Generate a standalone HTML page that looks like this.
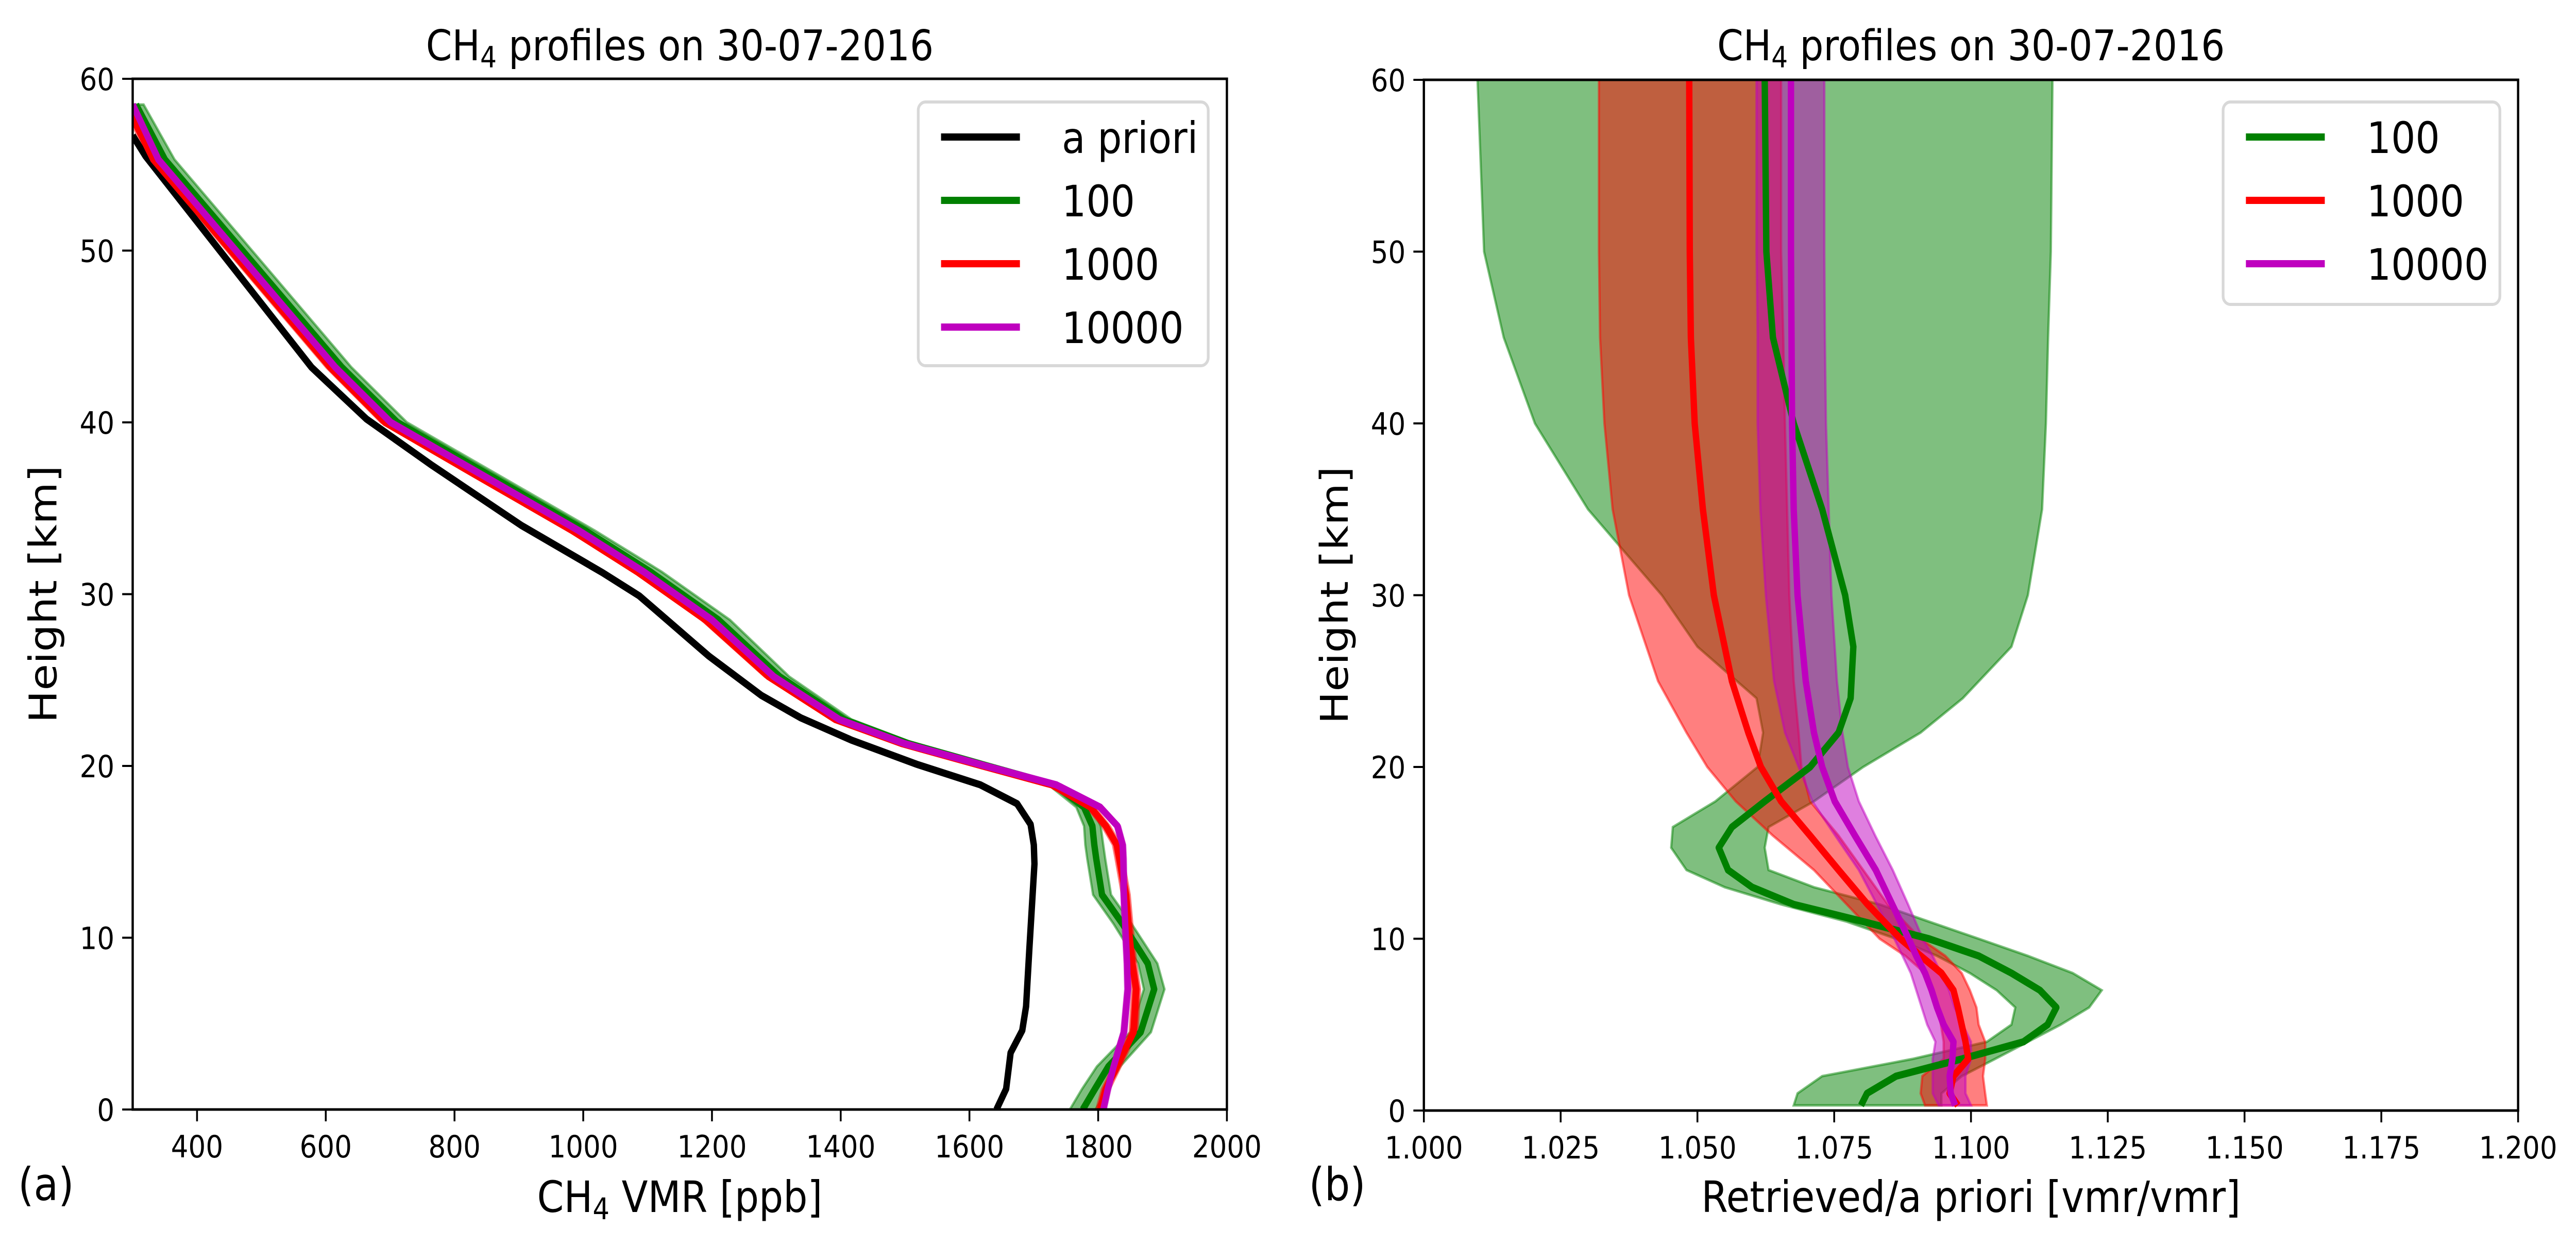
<!DOCTYPE html>
<html><head><meta charset="utf-8"><title>CH4 profiles</title>
<style>
html,body{margin:0;padding:0;background:#fff;overflow:hidden;width:100vw;height:100vh;}
svg{display:block;width:100vw;height:100vh;font-family:"DejaVu Sans","Liberation Sans",sans-serif;}
</style></head>
<body>
<svg id="fig" viewBox="0 0 5650 2419" preserveAspectRatio="none" xmlns="http://www.w3.org/2000/svg">
<defs>
<clipPath id="clipA"><rect x="291" y="153" width="2400" height="2001"/></clipPath>
<clipPath id="clipB"><rect x="3123" y="155" width="2400" height="2001"/></clipPath>
</defs>
<g id="panelA"></g>
<g id="panelB"></g>
</svg>
<script>
// ---------- Panel (a) data ----------
const aXTicks = [400,600,800,1000,1200,1400,1600,1800,2000];
const aYTicks = [0,10,20,30,40,50,60];
const yTickLabels = ["0","10","20","30","40","50","60"];
const aprioriH = [0,1.2,3.3,4.6,6,9.3,14.3,15.4,16.6,17.8,18.9,20.1,21.5,22.8,24.1,26.4,29.9,31.25,34,37.5,40.2,43.2,55.5,56.7];
const aprioriX = [1642,1657,1664,1682,1688,1693,1701,1700,1695,1674,1617,1518,1417,1338,1277,1195,1087,1030,904,765,663,578,320,300];
const retH = [0,1.2,2.5,4.5,7,8.5,10.8,12.5,14.6,15.4,16.5,17.6,18.9,20,21.3,22.7,25.2,28.5,31.3,33.7,37,40,43.2,55.3,58.5];
const r100X = [1776,1795,1816,1866,1887,1877,1838,1806,1797,1794,1791,1778,1733,1628,1505,1405,1305,1210,1104,1003,850,711,625,350,305];
const r100Err = [20,20,18,16,16,15,14,14,14,14,13,12,10,10,10,12,15,18,18,15,15,15,15,15,12];
const r1000X = [1803,1812,1829,1855,1859,1853,1847,1843,1833,1829,1812,1788,1728,1620,1495,1392,1288,1190,1084,983,830,692,607,332,290];
const r1000Err = [6,6,6,6,6,6,6,6,6,6,6,6,6,6,6,6,6,6,6,6,6,6,6,6,6];
const r10000X = [1808,1815,1824,1840,1846,1845,1842,1840,1839,1838,1830,1803,1735,1625,1499,1398,1296,1200,1094,993,840,701,615,340,300];
const r10000Err = [4,4,4,4,4,4,4,4,4,4,4,4,4,4,4,4,4,4,4,4,4,4,4,4,4];

// ---------- Panel (b) data ----------
const bXTicks = [1.0,1.025,1.05,1.075,1.1,1.125,1.15,1.175,1.2];
const bXTickLabels = ["1.000","1.025","1.050","1.075","1.100","1.125","1.150","1.175","1.200"];
const gH = [0.3,1,2,3,4,5,6,7,8,9,10,11,12,13,14,15.3,16.5,18,20,22,24,27,30,35,40,45,50,60];
const gMean = [1.0799,1.081,1.0863,1.0983,1.1096,1.114,1.1156,1.1126,1.1074,1.1014,1.0923,1.0803,1.0676,1.06,1.0556,1.0539,1.0563,1.0623,1.0706,1.0758,1.078,1.0785,1.077,1.0728,1.0676,1.0638,1.0626,1.0623];
const gLow = [1.0676,1.0683,1.0728,1.0893,1.1029,1.1074,1.1081,1.1047,1.0998,1.0938,1.0863,1.0773,1.0653,1.055,1.048,1.0452,1.0455,1.0533,1.061,1.062,1.0608,1.05,1.0435,1.03,1.0203,1.0146,1.011,1.0098];
const gHigh = [1.0946,1.0946,1.0983,1.1044,1.1104,1.1164,1.1216,1.1239,1.1186,1.1104,1.1014,1.0923,1.0833,1.0713,1.063,1.0623,1.063,1.0713,1.0803,1.0908,1.0985,1.1074,1.1104,1.113,1.1137,1.1141,1.1146,1.1149];
const rH = [0.3,1,2,3,4,5,6,7,8,9,10,12,14,16,18,20,22,25,30,35,40,45,50,60];
const rMean = [1.0976,1.0961,1.0968,1.0995,1.099,1.0983,1.0976,1.0968,1.0946,1.0908,1.0871,1.0811,1.0758,1.0706,1.0653,1.0616,1.0593,1.0563,1.053,1.051,1.0495,1.0488,1.0486,1.0485];
const rLow = [1.0916,1.0908,1.0911,1.095,1.095,1.0945,1.0938,1.093,1.0916,1.088,1.0833,1.0773,1.0713,1.0638,1.057,1.0518,1.048,1.0428,1.0375,1.0345,1.033,1.0322,1.032,1.032];
const rHigh = [1.1029,1.1026,1.1022,1.1026,1.1026,1.1014,1.101,1.0998,1.0983,1.0953,1.0908,1.0848,1.0803,1.0758,1.0706,1.069,1.0685,1.0676,1.0668,1.0664,1.066,1.0657,1.0653,1.0653];
const mH = [0.3,1,2,3,4,5,6,7,8,9,10,12,14,16,18,20,22,25,30,35,40,45,50,60];
const mMean = [1.0971,1.0963,1.0961,1.0966,1.0968,1.095,1.0938,1.0928,1.0916,1.09,1.0886,1.0856,1.0826,1.0788,1.0751,1.0728,1.0713,1.0698,1.0683,1.0676,1.0673,1.0672,1.0671,1.0671];
const mLow = [1.0941,1.093,1.093,1.093,1.0935,1.092,1.091,1.09,1.089,1.0875,1.086,1.0828,1.0795,1.0752,1.071,1.0685,1.066,1.064,1.0625,1.0615,1.061,1.061,1.0608,1.0608];
const mHigh = [1.1,1.099,1.099,1.1,1.1,1.0985,1.097,1.096,1.0945,1.093,1.0912,1.0885,1.0857,1.0825,1.0795,1.0775,1.0765,1.0755,1.0745,1.074,1.0735,1.0733,1.0732,1.0732];

const NS = "http://www.w3.org/2000/svg";
function mk(tag, attrs, parent){
  const e = document.createElementNS(NS, tag);
  for (const k in attrs) e.setAttribute(k, attrs[k]);
  parent.appendChild(e);
  return e;
}
function txt(parent, x, y, s, size, anchor, extra){
  const t = mk("text", Object.assign({x:x, y:y, "font-size":size, "text-anchor":anchor||"middle", fill:"#000"}, extra||{}), parent);
  t.textContent = s;
  return t;
}
function linePath(xs, hs, sx, sy){
  return xs.map((v,i)=>(i?"L":"M")+sx(v).toFixed(1)+","+sy(hs[i]).toFixed(1)).join(" ");
}
function bandPath(lo, hi, hs, sx, sy){
  let d = lo.map((v,i)=>(i?"L":"M")+sx(v).toFixed(1)+","+sy(hs[i]).toFixed(1)).join(" ");
  for (let i=hi.length-1;i>=0;i--) d += " L"+sx(hi[i]).toFixed(1)+","+sy(hs[i]).toFixed(1);
  return d+" Z";
}

function drawAxes(g, L, T, W, H, xmin, xmax, xt, xtl, title, xlabelParts, panelLetter){
  const sx = v => L + (v - xmin) / (xmax - xmin) * W;
  const sy = v => T + H - v / 60 * H;
  xt.forEach((v,i)=>{
    const tk = mk("line",{x1:sx(v),x2:sx(v),y1:T+H,y2:T+H+23,stroke:"#000","stroke-width":4},g);
    
    
    const lb = txt(g, sx(v), T+H+93, xtl[i], 60);
    
    
  });
  aYTicks.forEach((v,i)=>{
    const tk = mk("line",{x1:L-23,x2:L,y1:sy(v),y2:sy(v),stroke:"#000","stroke-width":4},g);
    
    
    const lb = txt(g, L-40, sy(v)+22, yTickLabels[i], 60, "end");
    
    
  });
  const t = mk("text",{x:L+W/2,y:117,"font-size":82,"text-anchor":"middle"},g);
  
  
  t.innerHTML = 'CH<tspan font-size="57" dy="14">4</tspan><tspan dy="-14"> profiles on 30-07-2016</tspan>';
  const xl = mk("text",{x:L+W/2,y:2353,"font-size":84,"text-anchor":"middle"},g);
  
  
  xl.innerHTML = xlabelParts;
  const yl = txt(g, 0, 0, "Height [km]", 84, "middle", {transform:"translate("+(L-167)+","+(T+H/2)+") rotate(-90)"});
  
  
  const pl = txt(g, L-190, 2330, panelLetter, 88, "middle");
  
  
  return {sx, sy};
}
function frame(g, L, T, W, H){
  const f = mk("rect",{x:L,y:T,width:W,height:H,fill:"none",stroke:"#000","stroke-width":5},g);
  
  
}
function legend(g, x, y, w, h, entries){
  const lg = mk("g",{},g);
  
  
  mk("rect",{x:x,y:y,width:w,height:h,rx:16,fill:"#fff","fill-opacity":0.8,stroke:"#d8d8d8","stroke-width":6},lg);
  entries.forEach((en,i)=>{
    const cy = y + 68 + i*123;
    const ent = mk("g",{},lg);
    
    
    mk("line",{x1:x+50,x2:x+223,y1:cy,y2:cy,stroke:en[1],"stroke-width":14},ent);
    txt(ent, x+315, cy+31, en[0], 84, "start");
  });
}

(function(){
  const g = document.getElementById("panelA");
  const L=291,T=153,W=2400,H=2001;
  const {sx, sy} = drawAxes(g,L,T,W,H,300,2000,aXTicks,aXTicks.map(String),"",
    'CH<tspan font-size="58" dy="14">4</tspan><tspan dy="-14"> VMR [ppb]</tspan>',"(a)");
  const plot = mk("g",{"clip-path":"url(#clipA)"},g);
  
  
  const series = [
    [r100X, r100Err, "#008000", "series-100"],
    [r1000X, r1000Err, "#ff0000", "series-1000"],
    [r10000X, r10000Err, "#bf00bf", "series-10000"]
  ];
  series.forEach(s=>{
    const lo = s[0].map((v,i)=>v - s[1][i]);
    const hi = s[0].map((v,i)=>v + s[1][i]);
    const b = mk("path",{d:bandPath(lo,hi,retH,sx,sy),fill:s[2],"fill-opacity":0.5,stroke:s[2],"stroke-opacity":0.5,"stroke-width":5},plot);
    
    
  });
  const ap = mk("path",{d:linePath(aprioriX,aprioriH,sx,sy),fill:"none",stroke:"#000","stroke-width":14,"stroke-linejoin":"round"},plot);
  
  
  series.forEach(s=>{
    const p = mk("path",{d:linePath(s[0],retH,sx,sy),fill:"none",stroke:s[2],"stroke-width":14,"stroke-linejoin":"round"},plot);
    
    
  });
  frame(g,L,T,W,H);
  legend(g, 2014, 198, 636, 512, [["a priori","#000"],["100","#008000"],["1000","#ff0000"],["10000","#bf00bf"]]);
})();

(function(){
  const g = document.getElementById("panelB");
  const L=3123,T=155,W=2400,H=2001;
  const {sx, sy} = drawAxes(g,L,T,W,H,1.0,1.2,bXTicks,bXTickLabels,"",
    'Retrieved/a priori [vmr/vmr]',"(b)");
  const plot = mk("g",{"clip-path":"url(#clipB)"},g);
  
  
  const series = [
    [gH, gMean, gLow, gHigh, "#008000", "ratio-100"],
    [rH, rMean, rLow, rHigh, "#ff0000", "ratio-1000"],
    [mH, mMean, mLow, mHigh, "#bf00bf", "ratio-10000"]
  ];
  series.forEach(s=>{
    const b = mk("path",{d:bandPath(s[2],s[3],s[0],sx,sy),fill:s[4],"fill-opacity":0.5,stroke:s[4],"stroke-opacity":0.5,"stroke-width":5},plot);
    
    
  });
  series.forEach(s=>{
    const p = mk("path",{d:linePath(s[1],s[0],sx,sy),fill:"none",stroke:s[4],"stroke-width":14,"stroke-linejoin":"round"},plot);
    
    
  });
  frame(g,L,T,W,H);
  legend(g, 4876, 198, 607, 393, [["100","#008000"],["1000","#ff0000"],["10000","#bf00bf"]]);
})();
</script>
</body></html>
